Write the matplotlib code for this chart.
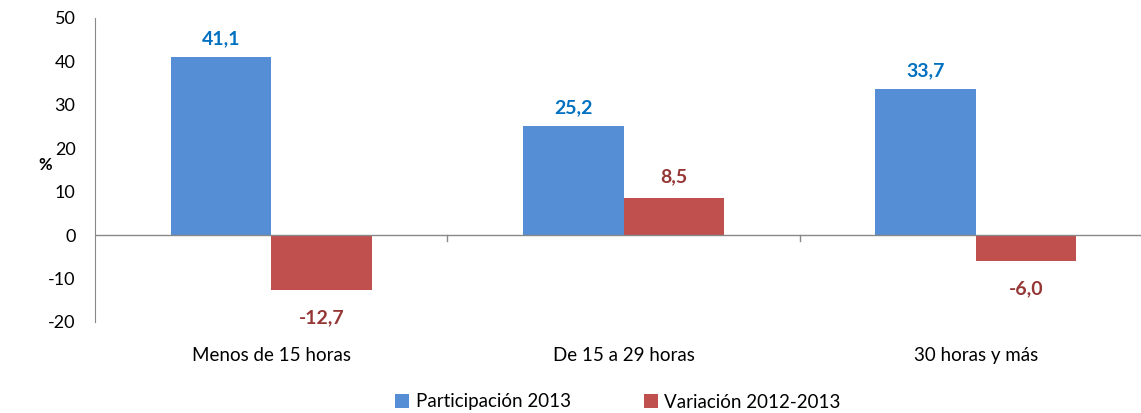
import matplotlib
matplotlib.use("Agg")
import matplotlib.pyplot as plt
import numpy as np

categories = ["Menos de 15 horas", "De 15 a 29 horas", "30 horas y más"]
participacion = [41.1, 25.2, 33.7]
variacion = [-12.7, 8.5, -6.0]
series_names = ["Participación 2013", "Variación 2012-2013"]
yticks = [-20, -10, 0, 10, 20, 30, 40, 50]

plt.rcParams['font.family'] = ['Lato', 'DejaVu Sans']

fig = plt.figure(figsize=(11.41, 4.13), dpi=100)
ax = fig.add_axes([95/1141, 1 - 322/413, 1057/1141, (322-18)/413])

x = np.arange(len(categories))
w = 0.285
blue = "#558ED5"
red = "#C0504D"
b1 = ax.bar(x - w/2, participacion, w, color=blue, label=series_names[0], zorder=2)
b2 = ax.bar(x + w/2, variacion, w, color=red, label=series_names[1], zorder=2)

for xi, v in zip(x, participacion):
    ax.annotate(f"{v:.1f}".replace(".", ","), (xi - w/2, v), xytext=(0, 7),
                textcoords="offset points", ha="center", va="bottom",
                fontsize=14, fontweight="bold", color="#0070C0")
for xi, v in zip(x, variacion):
    off = 9 if v > 0 else -14
    ax.annotate(f"{v:.1f}".replace(".", ","), (xi + w/2, v), xytext=(0, off),
                textcoords="offset points", ha="center",
                va="bottom" if v > 0 else "top",
                fontsize=14, fontweight="bold", color="#953735")

ax.set_ylim(-20, 50)
ax.set_xlim(-0.5, 2.5)
ax.set_yticks(yticks)
ax.set_yticklabels([str(t) for t in yticks], fontsize=13)
ax.tick_params(axis='y', length=0, pad=14)
ax.set_xticks(x)
ax.set_xticklabels(categories, fontsize=13.5)
ax.tick_params(axis='x', length=0, pad=18)
for b in [0.5, 1.5]:
    ax.plot([b, b], [0, -1.3], color="#888888", lw=1, clip_on=False, zorder=3)
ax.axhline(0, color="#888888", lw=1, zorder=3)

for s in ["top", "right", "bottom"]:
    ax.spines[s].set_visible(False)
ax.spines["left"].set_color("#888888")

fig.text(45/1141, 1 - 165/413, "%", fontsize=12, fontweight="bold", ha="center", va="center")

fig.legend(handles=[b1, b2], labels=series_names, loc="center",
           bbox_to_anchor=(618/1141, 1 - 402/413), ncol=2, frameon=False,
           fontsize=13.5, handlelength=0.75, handleheight=0.75, columnspacing=3.9,
           handletextpad=0.35)

fig.savefig("out.png", dpi=100)
